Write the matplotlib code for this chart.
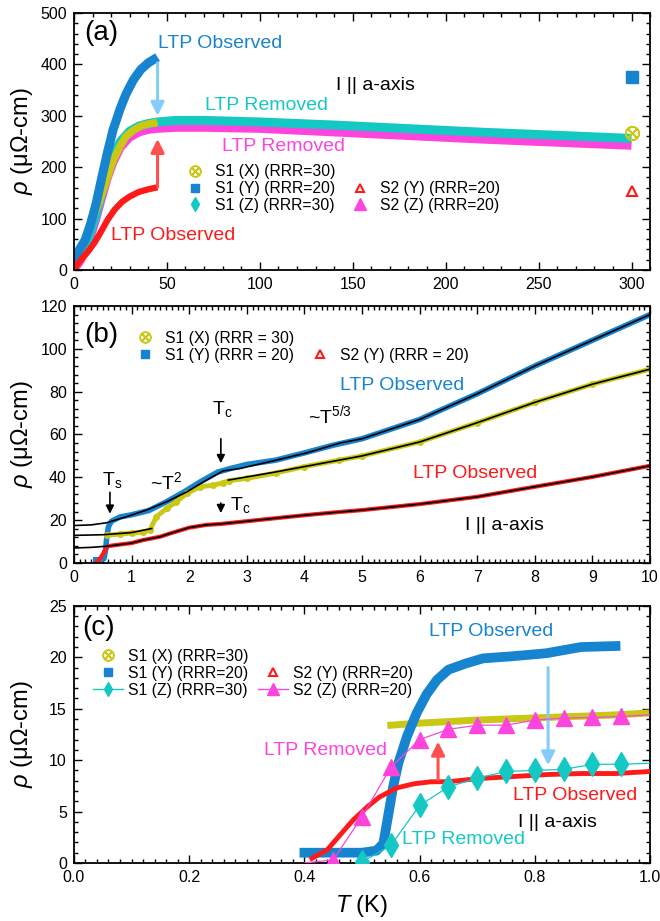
import numpy as np
import matplotlib.pyplot as plt
from matplotlib.lines import Line2D
from matplotlib.ticker import MultipleLocator

plt.rcParams['font.family'] = ['Liberation Sans', 'DejaVu Sans']
plt.rcParams['mathtext.fontset'] = 'custom'
plt.rcParams['mathtext.rm'] = 'Liberation Sans'
plt.rcParams['mathtext.it'] = 'Liberation Sans:italic'

# colours
c_blue = '#1784cf'
c_yel = '#c9c814'
c_cyan = '#14c8c4'
c_mag = '#fb45dc'
c_red = '#ff1a1a'
c_arrow_blue = '#86ccf8'
c_arrow_red = '#ff5050'

# ---------------- panel (a) data: rho vs T up to 300 K ----------------
Ta_s1y = [0.5, 3, 6, 9, 12, 15, 18, 21, 25, 28, 32, 36, 40, 45]
rho_a_s1y = [12, 40, 58, 90, 130, 180, 228, 272, 315, 342, 370, 390, 403, 414]
Ta_s1x = [0.5, 2, 5, 7, 10, 14, 18, 21, 25, 28, 32, 36, 40, 45]
rho_a_s1x = [10, 30, 50, 70, 100, 137, 180, 212, 242, 260, 272, 280, 284, 287]
Ta_s1z = [0.5, 3, 6, 9, 12, 15, 18, 21, 25, 30, 35, 40, 45, 55, 70, 100, 140, 180, 220, 260, 300]
rho_a_s1z = [8, 25, 45, 75, 110, 150, 190, 222, 250, 270, 280, 285, 288, 291, 291, 288, 282, 275, 268, 262, 256]
Ta_s2z = [0.5, 3, 6, 9, 12, 15, 18, 21, 25, 30, 35, 40, 45, 55, 70, 100, 140, 180, 220, 260, 300]
rho_a_s2z = [3, 15, 35, 65, 100, 140, 178, 208, 238, 258, 268, 273, 275, 277, 277, 275, 268, 261, 254, 248, 242]
Ta_s2y = [0.5, 2, 5, 8, 11, 14, 18, 22, 26, 30, 35, 40, 45]
rho_a_s2y = [2, 12, 25, 38, 53, 71, 97, 118, 133, 143, 152, 157, 161]
# single room-temperature points
T_rt = 300
rho_rt_s1y = 376
rho_rt_s1x = 267
rho_rt_s2y = 154

# ---------------- panel (b) data: 0-10 K ----------------
Tb_s1y = [0.38, 0.45, 0.52, 0.55, 0.57, 0.6, 0.65, 0.8, 1.0, 1.3, 1.6, 1.9, 2.2, 2.5, 2.6, 2.7,
          3.0, 3.5, 4.0, 4.5, 5, 6, 7, 8, 9, 10]
rho_b_s1y = [1.5, 1.5, 2, 6, 12, 17, 19.5, 21.5, 22.5, 24.5, 28.5, 33, 38, 42.5, 43.2, 44,
             46, 48, 51.4, 55, 58, 67, 79, 92, 104, 116]
Tb_s1x = [0.57, 0.8, 1.0, 1.2, 1.32, 1.43, 1.61, 1.78, 1.96, 2.19, 2.42, 2.59, 2.7, 3.0, 3.5,
          4.0, 4.6, 5, 6, 7, 8, 9, 10]
rho_b_s1x = [13, 13.5, 14, 14.5, 15.4, 21.6, 25.5, 28.6, 32.5, 35.6, 36.3, 37.5, 38.5, 39.5, 42,
             45, 48, 50, 56.5, 65.5, 75, 83.5, 90.5]
Tb_s2y = [0.39, 0.45, 0.5, 0.55, 0.6, 0.7, 1.0, 1.2, 1.5, 1.67, 2.0, 2.3, 2.53, 3.0, 3.46, 4.0,
          4.6, 5, 6, 7, 8, 9, 10]
rho_b_s2y = [0, 2, 4, 6.5, 7.9, 8.3, 9.3, 10.7, 12.3, 13.8, 16.5, 17.8, 18.2, 19.5, 20.8, 22.3,
             23.8, 24.7, 27.5, 30.9, 35.6, 40.2, 45.4]
# fits (black lines)
Tfit_s1y = [0, 0.3, 0.57, 0.91, 1.26, 1.61, 1.96, 2.3, 2.59, 2.88, 3.46, 4.04, 4.62, 5, 6, 7, 8, 9, 10]
rhofit_s1y = [17.5, 17.8, 18.8, 21.6, 24.7, 28.6, 33.2, 38.7, 43, 44.1, 47.7, 51.4, 56, 58, 67, 79, 92, 104, 116]
Tfit_s1x_lo = [0, 0.5, 1.0, 1.35]
rhofit_s1x_lo = [12.9, 13.2, 14.2, 16.1]
Tfit_s1x_hi = [2.68, 3.5, 4.6, 5, 6, 7, 8, 9, 10]
rhofit_s1x_hi = [38.7, 42.5, 48, 50, 56.5, 65.5, 75, 83.5, 90.5]
Tfit_s2y = [0, 0.3, 0.6, 1.0, 1.2, 1.5, 1.67, 2.0, 2.3, 2.53, 3.0, 3.46, 4.0, 4.6, 5, 6, 7, 8, 9, 10]
rhofit_s2y = [7.0, 7.3, 7.9, 9.3, 10.7, 12.3, 13.8, 16.5, 17.8, 18.2, 19.5, 20.8, 22.3, 23.8, 24.7,
              27.5, 30.9, 35.6, 40.2, 45.4]

# ---------------- panel (c) data: 0-1 K ----------------
Tc_s1y = [0.40, 0.45, 0.50, 0.525, 0.537, 0.546, 0.554, 0.563, 0.578, 0.595, 0.612, 0.63, 0.65,
          0.68, 0.71, 0.76, 0.82, 0.88, 0.94]
rho_c_s1y = [1.0, 1.0, 1.0, 1.2, 1.9, 4.8, 7.4, 9.7, 12.3, 14.6, 16.4, 17.8, 18.8, 19.4, 19.9,
             20.1, 20.4, 21.0, 21.1]
Tc_s2y = [0.413, 0.44, 0.46, 0.485, 0.51, 0.53, 0.56, 0.59, 0.62, 0.65, 0.70, 0.76, 0.82, 0.88, 0.94, 1.0]
rho_c_s2y = [0.45, 1.3, 2.6, 4.2, 5.5, 6.4, 7.3, 7.7, 7.9, 7.9, 8.2, 8.4, 8.6, 8.7, 8.7, 8.9]
Tc_s1x = [0.55, 0.60, 0.70, 0.82, 0.94, 1.0]
rho_c_s1x = [13.4, 13.6, 13.9, 14.15, 14.4, 14.6]
Tc_s2z = [0.40, 0.45, 0.50, 0.55, 0.60, 0.65, 0.70, 0.75, 0.80, 0.85, 0.90, 0.95, 1.00]
rho_c_s2z = [0.0, 0.3, 4.5, 9.3, 12.0, 13.0, 13.4, 13.4, 13.9, 14.1, 14.15, 14.25, 14.4]
Tc_s1z = [0.50, 0.55, 0.60, 0.65, 0.70, 0.75, 0.80, 0.85, 0.90, 0.95, 1.00]
rho_c_s1z = [0.1, 1.7, 5.6, 7.4, 8.25, 8.9, 9.0, 9.1, 9.6, 9.6, 9.7]

fig = plt.figure(figsize=(6.6, 9.21), dpi=100)
ax_a = fig.add_axes([0.112, 0.7068, 0.873, 0.2791])
ax_b = fig.add_axes([0.112, 0.3887, 0.873, 0.2791])
ax_c = fig.add_axes([0.112, 0.0630, 0.873, 0.2791])

lab_fs = 14
leg_fs = 11.3


def style_axes(ax, xmaj, xmin, ymaj, ymin):
    ax.xaxis.set_major_locator(MultipleLocator(xmaj))
    ax.xaxis.set_minor_locator(MultipleLocator(xmin))
    ax.yaxis.set_major_locator(MultipleLocator(ymaj))
    ax.yaxis.set_minor_locator(MultipleLocator(ymin))
    ax.tick_params(which='both', direction='in', top=True, right=True, labelsize=11.5, width=1)
    ax.tick_params(which='major', length=6)
    ax.tick_params(which='minor', length=3)
    ax.tick_params(axis='y', pad=5)
    ax.tick_params(axis='x', pad=5)
    for s in ax.spines.values():
        s.set_linewidth(1.3)
    ax.set_ylabel(r'$\mathit{\rho}$ (μΩ-cm)', fontsize=17)
    ax.yaxis.set_label_coords(-0.068, 0.5)


def arrow(ax, x, y0, y1, color, lw=2.2, ms=20):
    ax.annotate('', xy=(x, y1), xytext=(x, y0),
                arrowprops=dict(arrowstyle='-|>', color=color, lw=lw,
                                mutation_scale=ms, shrinkA=0, shrinkB=0))


def legend_handles(lines=False):
    ls = '-' if lines else 'None'
    h_s1x = Line2D([], [], ls='None', marker=r'$\otimes$', color=c_yel, ms=8)
    h_s1y = Line2D([], [], ls='None', marker='s', color=c_blue, ms=6)
    h_s1z = Line2D([], [], ls=ls, lw=1, marker='d', color=c_cyan, ms=7)
    h_s2y = Line2D([], [], ls='None', marker='^', mfc='none', mec=c_red, mew=1.5, ms=6)
    h_s2z = Line2D([], [], ls=ls, lw=1, marker='^', color=c_mag, ms=8)
    blank = Line2D([], [], ls='None')
    return h_s1x, h_s1y, h_s1z, h_s2y, h_s2z, blank


# ================= panel (a) =================
ax = ax_a
ax.plot(Ta_s2z, rho_a_s2z, color=c_mag, lw=6, solid_capstyle='butt')
ax.plot(Ta_s1z, rho_a_s1z, color=c_cyan, lw=6.5, solid_capstyle='butt')
ax.plot(Ta_s1x, rho_a_s1x, color=c_yel, lw=5.5, solid_capstyle='butt')
ax.plot(Ta_s1y, rho_a_s1y, color=c_blue, lw=6.5, solid_capstyle='butt')
ax.plot(Ta_s2y, rho_a_s2y, color=c_red, lw=4.5, solid_capstyle='butt')
ax.plot(T_rt, rho_rt_s1y, ls='None', marker='s', color=c_blue, ms=8)
ax.plot(T_rt, rho_rt_s1x, ls='None', marker=r'$\otimes$', color=c_yel, ms=10)
ax.plot(T_rt, rho_rt_s2y, ls='None', marker='^', mfc='none', mec=c_red, mew=1.5, ms=7)
ax.set_xlim(0, 310)
ax.set_ylim(0, 500)
style_axes(ax, 50, 10, 100, 20)
arrow(ax, 45, 403, 300, c_arrow_blue)
arrow(ax, 45, 161, 255, c_arrow_red)
ax.text(0.047, 0.922, '(a)', transform=ax.transAxes, fontsize=20, ha='center', va='center')
ax.text(78.6, 440, 'LTP Observed', color=c_blue, fontsize=lab_fs, ha='center', va='center')
ax.text(103.4, 320, 'LTP Removed', color=c_cyan, fontsize=lab_fs, ha='center', va='center')
ax.text(113, 240, 'LTP Removed', color=c_mag, fontsize=lab_fs, ha='center', va='center')
ax.text(53.3, 68, 'LTP Observed', color=c_red, fontsize=lab_fs, ha='center', va='center')
ax.text(162, 358, 'I || a-axis', color='k', fontsize=lab_fs, ha='center', va='center')
h_s1x, h_s1y, h_s1z, h_s2y, h_s2z, blank = legend_handles()
ax.legend([h_s1x, h_s1y, h_s1z, blank, h_s2y, h_s2z],
          ['S1 (X) (RRR=30)', 'S1 (Y) (RRR=20)', 'S1 (Z) (RRR=30)', '',
           'S2 (Y) (RRR=20)', 'S2 (Z) (RRR=20)'],
          ncol=2, loc='upper left', bbox_to_anchor=(0.184, 0.412), frameon=False,
          fontsize=leg_fs, borderpad=0, borderaxespad=0, handlelength=1.9,
          handletextpad=0.33, columnspacing=0.64, labelspacing=0.12)

# ================= panel (b) =================
ax = ax_b
ax.plot(Tb_s1y, rho_b_s1y, color=c_blue, lw=4)
ax.plot(Tb_s1x, rho_b_s1x, color=c_yel, lw=3.5, marker='o', ms=4)
ax.plot(Tb_s2y, rho_b_s2y, color=c_red, lw=3)
for tf, rf in [(Tfit_s1y, rhofit_s1y), (Tfit_s1x_lo, rhofit_s1x_lo),
               (Tfit_s1x_hi, rhofit_s1x_hi), (Tfit_s2y, rhofit_s2y)]:
    ax.plot(tf, rf, color='k', lw=1.2)
ax.set_xlim(0, 10)
ax.set_ylim(0, 120)
style_axes(ax, 1, 0.1, 20, 4)
arrow(ax, 0.625, 33, 23, 'k', lw=1.2, ms=12)
arrow(ax, 2.55, 58, 46.6, 'k', lw=1.2, ms=12)
arrow(ax, 2.55, 28, 23.3, 'k', lw=1.2, ms=12)
ax.text(0.047, 0.887, '(b)', transform=ax.transAxes, fontsize=20, ha='center', va='center')
ax.text(0.66, 38.7, r'T$_\mathrm{s}$', fontsize=lab_fs, ha='center', va='center')
ax.text(1.6, 37.7, r'~T$^2$', fontsize=lab_fs, ha='center', va='center')
ax.text(2.57, 72, r'T$_\mathrm{c}$', fontsize=lab_fs, ha='center', va='center')
ax.text(2.88, 27, r'T$_\mathrm{c}$', fontsize=lab_fs, ha='center', va='center')
ax.text(4.45, 69, r'~T$^{5/3}$', fontsize=lab_fs, ha='center', va='center')
ax.text(5.69, 83, 'LTP Observed', color=c_blue, fontsize=lab_fs, ha='center', va='center')
ax.text(6.96, 42, 'LTP Observed', color=c_red, fontsize=lab_fs, ha='center', va='center')
ax.text(7.48, 17.7, 'I || a-axis', color='k', fontsize=lab_fs, ha='center', va='center')
ax.legend([h_s1x, h_s1y, blank, h_s2y],
          ['S1 (X) (RRR = 30)', 'S1 (Y) (RRR = 20)', '', 'S2 (Y) (RRR = 20)'],
          ncol=2, loc='upper left', bbox_to_anchor=(0.097, 0.903), frameon=False,
          fontsize=leg_fs, borderpad=0, borderaxespad=0, handlelength=1.9,
          handletextpad=0.33, columnspacing=0.7, labelspacing=0.12)

# ================= panel (c) =================
ax = ax_c
ax.plot(Tc_s1x, rho_c_s1x, color=c_yel, lw=5, zorder=2)
ax.plot(Tc_s1y, rho_c_s1y, color=c_blue, lw=7, zorder=2)
ax.plot(Tc_s2y, rho_c_s2y, color=c_red, lw=3.5, zorder=3)
ax.plot(Tc_s2z, rho_c_s2z, color=c_mag, lw=0.9, marker='^', ms=11,
        markevery=list(range(1, len(Tc_s2z) - 1)), zorder=4)
ax.plot(Tc_s1z, rho_c_s1z, color=c_cyan, lw=0.9, marker='d', ms=12,
        markevery=list(range(0, len(Tc_s1z) - 1)), zorder=4)
ax.set_xlim(0, 1)
ax.set_ylim(0, 25)
style_axes(ax, 0.2, 0.02, 5, 1)
ax.xaxis.set_major_formatter(plt.FormatStrFormatter('%.1f'))
arrow(ax, 0.823, 19.0, 9.5, c_arrow_blue)
arrow(ax, 0.632, 8.1, 11.8, c_arrow_red)
ax.text(0.042, 0.914, '(c)', transform=ax.transAxes, fontsize=20, ha='center', va='center')
ax.text(0.724, 22.5, 'LTP Observed', color=c_blue, fontsize=lab_fs, ha='center', va='center')
ax.text(0.4375, 10.9, 'LTP Removed', color=c_mag, fontsize=lab_fs, ha='center', va='center')
ax.text(0.677, 2.33, 'LTP Removed', color=c_cyan, fontsize=lab_fs, ha='center', va='center')
ax.text(0.87, 6.6, 'LTP Observed', color=c_red, fontsize=lab_fs, ha='center', va='center')
ax.text(0.84, 3.9, 'I || a-axis', color='k', fontsize=lab_fs, ha='center', va='center')
h_s1x, h_s1y, h_s1z, h_s2y, h_s2z, blank = legend_handles(lines=True)
ax.legend([h_s1x, h_s1y, h_s1z, blank, h_s2y, h_s2z],
          ['S1 (X) (RRR=30)', 'S1 (Y) (RRR=20)', 'S1 (Z) (RRR=30)', '',
           'S2 (Y) (RRR=20)', 'S2 (Z) (RRR=20)'],
          ncol=2, loc='upper left', bbox_to_anchor=(0.033, 0.833), frameon=False,
          fontsize=leg_fs, borderpad=0, borderaxespad=0, handlelength=1.9,
          handletextpad=0.33, columnspacing=0.64, labelspacing=0.12)
ax.set_xlabel(r'$\mathit{T}$ (K)', fontsize=17)
ax.xaxis.set_label_coords(0.5, -0.115)

fig.savefig('out.png', dpi=100)
